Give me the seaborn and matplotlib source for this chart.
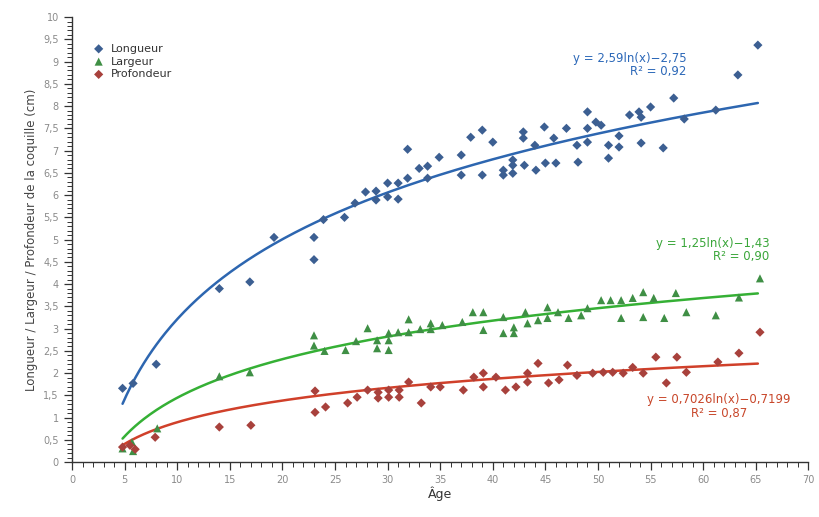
import matplotlib
matplotlib.use("Agg")
import matplotlib.pyplot as plt
import seaborn as sns
import numpy as np
import pandas as pd
from matplotlib.ticker import MultipleLocator, FuncFormatter

# Longueur (blue diamonds)
long_x = [4.8, 5.8, 8.0, 14.0, 16.9, 19.2, 23.0, 23.0, 23.9, 25.9, 26.9, 27.9, 28.9, 28.9,
          30.0, 30.0, 31.0, 31.0, 31.9, 31.9, 33.0, 33.8, 33.8, 34.9, 37.0, 37.0, 37.9, 39.0,
          39.0, 40.0, 41.0, 41.0, 41.9, 41.9, 41.9, 42.9, 42.9, 43.0, 44.0, 44.1, 44.9, 45.0,
          45.8, 46.0, 47.0, 48.0, 48.1, 49.0, 49.0, 49.0, 49.8, 50.3, 51.0, 51.0, 52.0, 52.0,
          53.0, 53.9, 54.1, 54.1, 55.0, 56.2, 57.2, 58.2, 61.2, 63.3, 65.2]
long_y = [1.66, 1.77, 2.2, 3.9, 4.05, 5.05, 5.05, 4.55, 5.45, 5.5, 5.82, 6.07, 6.09, 5.89,
          6.27, 5.96, 6.27, 5.91, 7.03, 6.38, 6.6, 6.65, 6.38, 6.85, 6.9, 6.45, 7.3, 7.46,
          6.45, 7.19, 6.56, 6.45, 6.79, 6.67, 6.49, 7.42, 7.28, 6.67, 7.12, 6.56, 7.53, 6.72,
          7.28, 6.72, 7.5, 7.12, 6.74, 7.87, 7.5, 7.19, 7.64, 7.57, 7.12, 6.83, 7.33, 7.08,
          7.8, 7.87, 7.75, 7.17, 7.98, 7.06, 8.18, 7.71, 7.91, 8.7, 9.37]

# Largeur (green triangles)
larg_x = [4.8, 5.7, 5.8, 8.1, 14.0, 16.9, 23.0, 23.0, 24.0, 26.0, 27.0, 28.1, 29.0, 29.0,
          30.1, 30.1, 30.1, 31.0, 32.0, 32.0, 33.1, 34.1, 34.1, 35.2, 37.1, 38.1, 39.1, 39.1,
          41.0, 41.0, 42.0, 42.0, 43.1, 43.3, 44.3, 45.2, 45.2, 46.2, 47.2, 48.4, 49.0, 50.3,
          51.2, 52.2, 52.2, 53.3, 54.3, 54.3, 55.3, 56.3, 57.4, 58.4, 61.2, 63.4, 65.4]
larg_y = [0.31, 0.45, 0.25, 0.76, 1.93, 2.02, 2.85, 2.62, 2.5, 2.52, 2.72, 3.01, 2.74, 2.56,
          2.9, 2.74, 2.52, 2.92, 3.21, 2.92, 2.99, 3.12, 2.99, 3.08, 3.15, 3.37, 3.37, 2.97,
          3.26, 2.9, 3.03, 2.9, 3.37, 3.12, 3.19, 3.48, 3.24, 3.37, 3.24, 3.3, 3.46, 3.64,
          3.64, 3.64, 3.24, 3.69, 3.82, 3.26, 3.69, 3.24, 3.8, 3.37, 3.3, 3.7, 4.13]

# Profondeur (red diamonds)
prof_x = [4.8, 5.5, 6.0, 7.9, 14.0, 17.0, 23.1, 23.1, 24.1, 26.2, 27.1, 28.1, 29.1, 29.1,
          30.1, 30.1, 31.1, 31.1, 32.0, 33.2, 34.1, 35.0, 37.2, 38.2, 39.1, 39.1, 40.3, 41.2,
          42.2, 43.3, 43.3, 44.3, 45.3, 46.3, 47.1, 48.0, 49.5, 50.5, 51.4, 52.4, 53.3, 54.3,
          55.5, 56.5, 57.5, 58.4, 61.4, 63.4, 65.4]
prof_y = [0.34, 0.38, 0.29, 0.56, 0.79, 0.83, 1.6, 1.12, 1.24, 1.33, 1.46, 1.62, 1.57, 1.44,
          1.62, 1.46, 1.62, 1.46, 1.8, 1.33, 1.69, 1.69, 1.62, 1.91, 2.0, 1.69, 1.91, 1.62,
          1.69, 2.0, 1.8, 2.22, 1.78, 1.85, 2.18, 1.95, 2.0, 2.02, 2.02, 2.0, 2.13, 2.0,
          2.36, 1.78, 2.36, 2.02, 2.25, 2.45, 2.92]

# log trend coefficients shown on the chart: y = a*ln(x) + b
fit_a = {'Longueur': 2.59, 'Largeur': 1.25, 'Profondeur': 0.7026}
fit_b = {'Longueur': -2.75, 'Largeur': -1.43, 'Profondeur': -0.7199}
fit_labels = {'Longueur': 'y = 2,59ln(x)\u22122,75\nR\u00b2 = 0,92',
              'Largeur': 'y = 1,25ln(x)\u22121,43\nR\u00b2 = 0,90',
              'Profondeur': 'y = 0,7026ln(x)\u22120,7199\nR\u00b2 = 0,87'}

series = ['Longueur', 'Largeur', 'Profondeur']
points = {'Longueur': (long_x, long_y), 'Largeur': (larg_x, larg_y),
          'Profondeur': (prof_x, prof_y)}

marker_cols = {'Longueur': '#3c5f92', 'Largeur': '#3f8f45', 'Profondeur': '#a8413c'}
markers = {'Longueur': 'D', 'Largeur': '^', 'Profondeur': 'D'}
marker_size = {'Longueur': 22, 'Largeur': 34, 'Profondeur': 22}
line_cols = {'Longueur': '#2d66b0', 'Largeur': '#35b035', 'Profondeur': '#d0402a'}
text_cols = {'Longueur': '#2c68b8', 'Largeur': '#3aa63a', 'Profondeur': '#c8462a'}

sns.set_style('white')
plt.rcParams['font.family'] = ['DejaVu Sans']

fig = plt.figure(figsize=(8.19, 5.17), dpi=100)
ax = fig.add_axes([0.088, 0.106, 0.899, 0.861])

# trend lines first, points on top
xs = np.linspace(4.8, 65.2, 300)
for s in series:
    ax.plot(xs, fit_a[s] * np.log(xs) + fit_b[s], color=line_cols[s], lw=1.8, zorder=2)

for s in series:
    d = pd.DataFrame({'Age': points[s][0], 'Taille': points[s][1]})
    sns.scatterplot(data=d, x='Age', y='Taille', color=marker_cols[s], marker=markers[s],
                    s=marker_size[s], edgecolor='none', ax=ax, zorder=3, label=s)

ax.text(58.4, 8.62, fit_labels['Longueur'], color=text_cols['Longueur'], fontsize=8.5,
        ha='right', va='bottom', multialignment='right', linespacing=1.05)
ax.text(66.3, 4.47, fit_labels['Largeur'], color=text_cols['Largeur'], fontsize=8.5,
        ha='right', va='bottom', multialignment='right', linespacing=1.05)
ax.text(61.5, 0.95, fit_labels['Profondeur'], color=text_cols['Profondeur'], fontsize=8.5,
        ha='center', va='bottom', multialignment='center', linespacing=1.05)

ax.set_xlim(0, 70)
ax.set_ylim(0, 10)
ax.xaxis.set_major_locator(MultipleLocator(5))
ax.xaxis.set_minor_locator(MultipleLocator(1))
ax.yaxis.set_major_locator(MultipleLocator(0.5))
ax.yaxis.set_minor_locator(MultipleLocator(0.1))
ax.yaxis.set_major_formatter(FuncFormatter(lambda v, p: f'{v:g}'.replace('.', ',')))
ax.tick_params(axis='both', which='both', bottom=True, left=True)
ax.tick_params(axis='both', which='major', direction='out', length=6, width=0.9,
               labelsize=7, labelcolor='#8a8a8a', color='#333333')
ax.tick_params(axis='both', which='minor', direction='out', length=3.5, width=0.7,
               color='#333333')

for side in ['top', 'right']:
    ax.spines[side].set_visible(False)
for side in ['left', 'bottom']:
    ax.spines[side].set_color('#333333')
    ax.spines[side].set_linewidth(1.0)

ax.set_xlabel('\u00c2ge', fontsize=9, color='#333333', labelpad=1)
ax.set_ylabel('Longueur / Largeur / Profondeur de la coquille (cm)', fontsize=8.5,
              color='#444444', labelpad=4)

leg = ax.legend(loc='upper left', bbox_to_anchor=(0.015, 0.95), frameon=False,
                fontsize=8, handletextpad=0.1, labelspacing=0.25, borderaxespad=0)
for t in leg.get_texts():
    t.set_color('#333333')

fig.savefig('out.png', dpi=100)
